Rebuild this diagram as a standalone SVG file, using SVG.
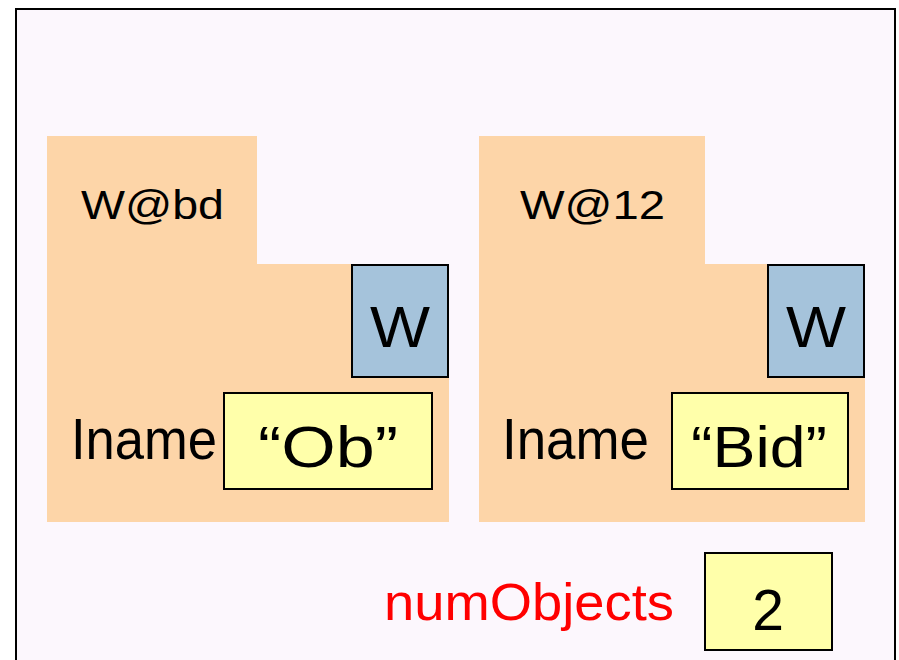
<svg xmlns="http://www.w3.org/2000/svg" width="899" height="660" viewBox="0 0 899 660">
  <style>
    .frame { fill: #fcf7fd; stroke: #000; stroke-width: 2; }
    .obj { fill: #fdd5a8; }
    .cls { fill: #a5c3db; stroke: #000; stroke-width: 2; }
    .val { fill: #ffffaa; stroke: #000; stroke-width: 2; }
    text { font-family: "Liberation Sans", "DejaVu Sans", sans-serif; fill: #000; }
    .addr { font-size: 40px; }
    .big { font-size: 57px; }
    .red { fill: #ff0000; font-size: 52px; }
  </style>

  <rect width="899" height="660" fill="#ffffff"/>
  <rect class="frame" x="16" y="9" width="879" height="700"/>

  <!-- first W object -->
  <g id="obj-bd">
    <path class="obj" d="M47,136 H257 V264 H449 V522 H47 Z"/>
    <text class="addr" x="81" y="219" textLength="143" lengthAdjust="spacingAndGlyphs">W@bd</text>
    <rect class="cls" x="352" y="265" width="96" height="112"/>
    <text class="big" x="400" y="347" text-anchor="middle" textLength="60" lengthAdjust="spacingAndGlyphs">W</text>
    <text class="big" x="71" y="459" textLength="146" lengthAdjust="spacingAndGlyphs">Iname</text>
    <rect class="val" x="224" y="393" width="208" height="96"/>
    <text class="big" x="258" y="467" textLength="140" lengthAdjust="spacingAndGlyphs">“Ob”</text>
  </g>

  <!-- second W object -->
  <g id="obj-12">
    <path class="obj" d="M479,136 H705 V264 H865 V522 H479 Z"/>
    <text class="addr" x="520" y="219" textLength="145" lengthAdjust="spacingAndGlyphs">W@12</text>
    <rect class="cls" x="768" y="265" width="96" height="112"/>
    <text class="big" x="816" y="347" text-anchor="middle" textLength="60" lengthAdjust="spacingAndGlyphs">W</text>
    <text class="big" x="502" y="459" textLength="147" lengthAdjust="spacingAndGlyphs">Iname</text>
    <rect class="val" x="672" y="393" width="176" height="96"/>
    <text class="big" x="691" y="467" textLength="136" lengthAdjust="spacingAndGlyphs">“Bid”</text>
  </g>

  <!-- static counter -->
  <g id="num-objects">
    <text class="red" x="384" y="620" textLength="290" lengthAdjust="spacingAndGlyphs">numObjects</text>
    <rect class="val" x="705" y="553" width="127" height="97"/>
    <text class="big" x="768" y="630" text-anchor="middle">2</text>
  </g>

  <g id="connectors"/>
</svg>
